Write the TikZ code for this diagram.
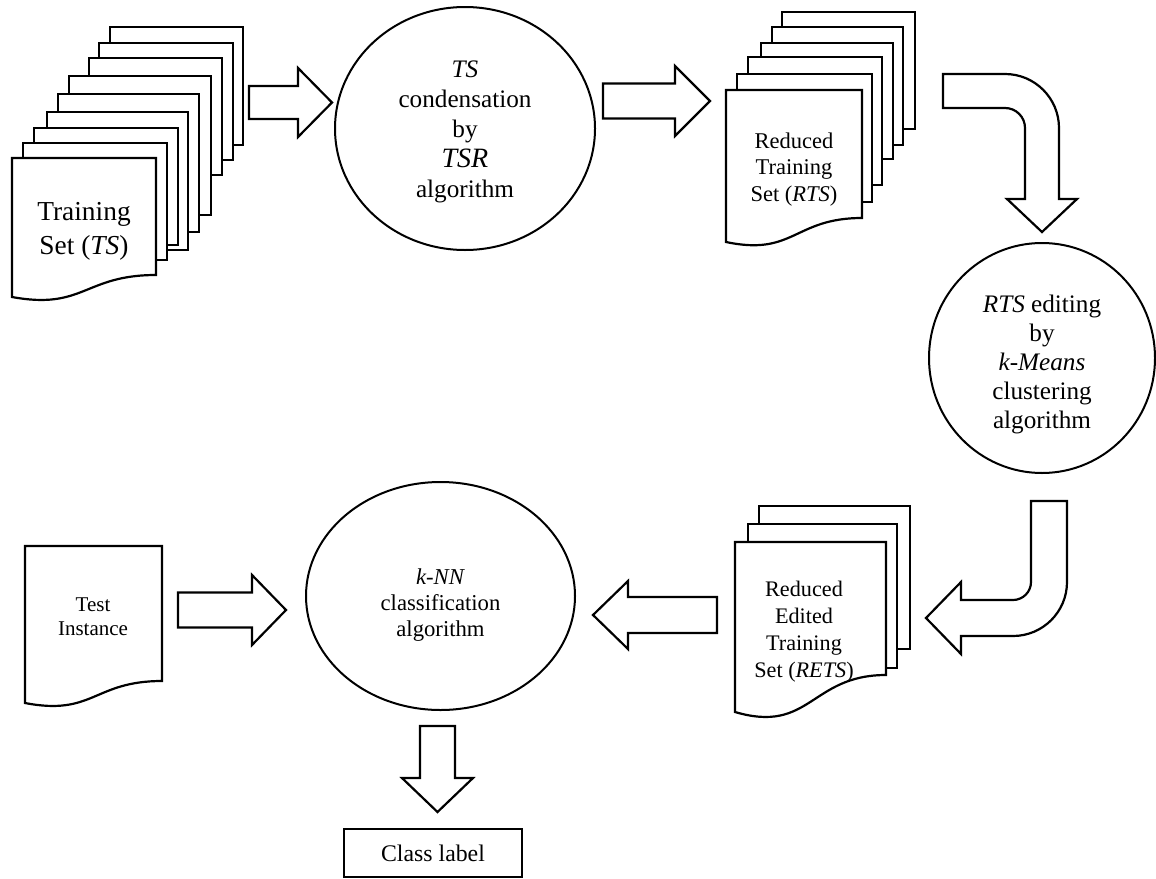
\documentclass[tikz,border=0pt]{standalone}
\usepackage{fontspec}
\setmainfont{Liberation Serif}
\usetikzlibrary{shapes.geometric}

\newcommand\fs[2]{\fontsize{#1}{#2}\selectfont}

\tikzset{
  outline/.style={draw=black, line width=2.2pt, fill=white, line join=miter},
  proc/.style={ellipse, draw=black, line width=2pt, fill=white, inner sep=0pt},
  doctext/.style={align=center, inner sep=0pt},
  result/.style={draw=black, line width=2pt, fill=white, inner sep=0pt}
}

% a sheet lying behind the front one
\newcommand\backpage[4]{\draw[outline] (#1,#2) rectangle (#3,#4);}
% front sheet with a wavy lower edge: left, top, right, right-bottom, left-bottom
\newcommand\frontpage[5]{%
  \draw[outline] (#1,#2) -- (#3,#2) -- (#3,#4)
    .. controls ({(#1+#3)/2},#4) and ({(#1+#3)/2},{#4+1.6*(#5-#4)}) .. (#1,#5) -- cycle;}
% horizontal block arrow: tail x, head-base x, tip x, axis y, shaft half, head half
\newcommand\harrow[6]{%
  \draw[outline] (#1,#4-#5) -- (#2,#4-#5) -- (#2,#4-#6) -- (#3,#4)
    -- (#2,#4+#6) -- (#2,#4+#5) -- (#1,#4+#5) -- cycle;}
% vertical block arrow: tail y, head-base y, tip y, axis x, shaft half, head half
\newcommand\varrow[6]{%
  \draw[outline] (#4-#5,#1) -- (#4-#5,#2) -- (#4-#6,#2) -- (#4,#3)
    -- (#4+#6,#2) -- (#4+#5,#2) -- (#4+#5,#1) -- cycle;}

\begin{document}
\begin{tikzpicture}[x=1pt,y=-1pt]
\useasboundingbox (0,0) rectangle (1156,878);
\fill[white] (0,0) rectangle (1156,878);

% training set stack
\backpage{110}{27}{243}{145}
\backpage{99}{43}{233}{160}
\backpage{89}{58}{222}{175}
\backpage{69}{76}{211}{215}
\backpage{58}{94}{199}{232}
\backpage{47}{112}{188}{250}
\backpage{34}{128}{178}{245}
\backpage{23}{143}{167}{260}
\frontpage{12}{158}{156}{275}{297}
\node[doctext, font=\fs{27.4}{34}] (ts) at (84,231) {Training\\Set (\textit{TS})};

\harrow{249}{298}{332}{102.5}{16.5}{34.5}

% condensation step
\node[proc, minimum width=260, minimum height=243] (cond) at (465,128.5) {};
\node[doctext, font=\fs{25.2}{30}] (condtext) at ([yshift=-3.5pt]cond.center)
  {\textit{TS}\\condensation\\by\\{\fs{28}{30}\textit{TSR}}\\algorithm};

\harrow{603}{675}{710}{101}{17.5}{35}

% reduced training set stack
\backpage{782}{12}{915}{129}
\backpage{772}{27}{903}{145}
\backpage{761}{43}{893}{159}
\backpage{748}{57}{882}{185}
\backpage{737}{74}{872}{202}
\frontpage{726}{90}{862}{218}{242}
\node[doctext, font=\fs{22.5}{26.5}] (rts) at (794,169.5) {Reduced\\Training\\Set (\textit{RTS})};

% bent arrow down to the editing step
\draw[outline] (943,74) -- (1005,74) .. controls (1034.8,74) and (1059,98.2) .. (1059,128)
  -- (1059,199) -- (1077,199) -- (1042,232) -- (1007,199) -- (1025,199) -- (1025,128)
  .. controls (1025,116.95) and (1016.05,108) .. (1005,108) -- (943,108) -- cycle;

% editing step
\node[proc, minimum width=226, minimum height=230] (edit) at (1042,358) {};
\node[doctext, font=\fs{25.2}{29}] (edittext) at ([yshift=-6.5pt]edit.center)
  {\textit{RTS} editing\\by\\\textit{k-Means}\\clustering\\algorithm};

% bent arrow back to the edited set
\draw[outline] (1031,501) -- (1067,501) -- (1067,582) .. controls (1067,611.8) and (1042.8,636) .. (1013,636)
  -- (961,636) -- (961,654) -- (926,618) -- (961,582) -- (961,600) -- (1013,600)
  .. controls (1022.9,600) and (1031,591.9) .. (1031,582) -- cycle;

% reduced edited training set stack
\backpage{759}{506}{910}{649}
\backpage{748}{524}{897}{668}
\frontpage{735}{542}{886}{675}{712}
\node[doctext, font=\fs{22.2}{27}] (rets) at (804,631.5) {Reduced\\Edited\\Training\\Set (\textit{RETS})};

\harrow{717}{628}{593}{615}{18}{34}

% test instance
\frontpage{25}{546}{162}{681}{703}
\node[doctext, font=\fs{21}{24}] (test) at (93,617) {Test\\Instance};

\harrow{178}{252}{286}{610}{17.5}{35}

% classification step
\node[proc, minimum width=269, minimum height=228] (knn) at (440.5,596) {};
\node[doctext, font=\fs{22.7}{26}] (knntext) at ([yshift=-9pt]knn.center)
  {\textit{k-NN}\\classification\\algorithm};

\varrow{726}{778}{812}{437.5}{17.5}{35.5}

\node[result, minimum width=178, minimum height=48, font=\fs{23.8}{28}] (cls) at (433,853) {Class label};
\end{tikzpicture}
\end{document}
